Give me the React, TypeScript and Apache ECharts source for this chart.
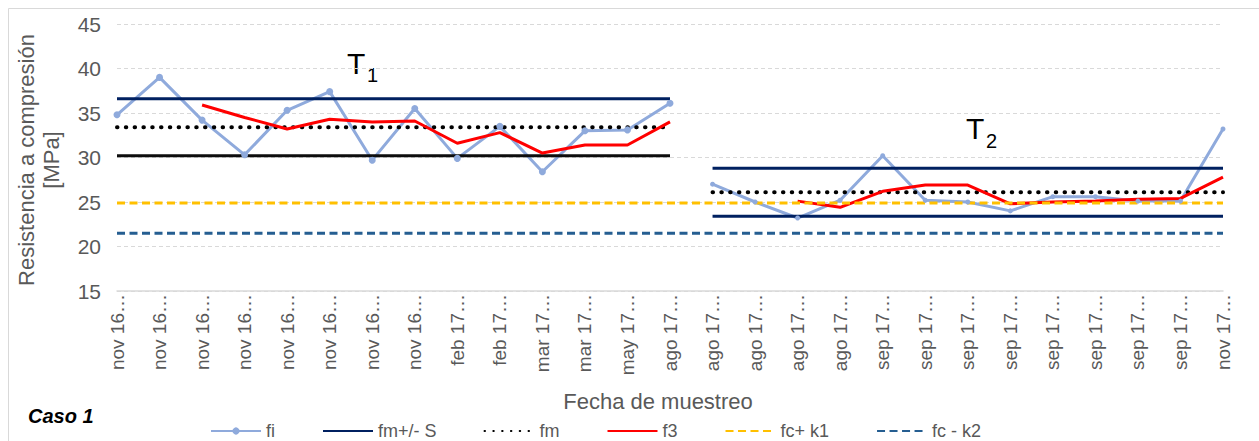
import { useEffect, useRef } from "react";
import * as echarts from "echarts";

const categories = [
  "nov 16…", "nov 16…", "nov 16…", "nov 16…", "nov 16…", "nov 16…", "nov 16…", "nov 16…",
  "feb 17…", "feb 17…", "mar 17…", "mar 17…", "may 17…",
  "ago 17…", "ago 17…", "ago 17…", "ago 17…", "ago 17…",
  "sep 17…", "sep 17…", "sep 17…", "sep 17…", "sep 17…", "sep 17…", "sep 17…", "sep 17…",
  "nov 17…",
];

const fi = [34.8, 39.0, 34.2, 30.3, 35.3, 37.4, 29.7, 35.5, 29.9, 33.5, 28.4, 33.0, 33.1, 36.1,
  27.0, 25.0, 23.2, 25.2, 30.2, 25.2, 25.0, 24.0, 25.6, 25.6, 25.1, 25.1, 33.2];

const f3 = [null, null, 35.9, 34.5, 33.2, 34.3, 34.0, 34.1, 31.6, 32.8, 30.5, 31.4, 31.4, 34.0,
  null, null, 25.1, 24.4, 26.2, 26.9, 26.9, 24.8, 25.0, 25.1, 25.3, 25.4, 27.8];

// Tramos (index ranges of categories)
const t1Range = [0, 13];
const t2Range = [14, 26];

// Horizontal reference levels
const fmT1 = 33.4;
const fmT2 = 26.1;
const upperT1 = 36.6;
const lowerT1 = 30.2;
const upperT2 = 28.8;
const lowerT2 = 23.4;
const fcK1 = 24.9;
const fcK2 = 21.5;

const yMin = 15;
const yMax = 45;
const yInterval = 5;

const legendNames = ["fi", "fm+/- S", "fm", "f3", "fc+ k1", "fc - k2"];

const FONT = "'Liberation Sans', Arial, sans-serif";
const GRAY = "#595959";
const CLEAR = "rgba(0,0,0,0)";

function seg(v: number, range: number[]) {
  return categories.map((_, i) => (i >= range[0] && i <= range[1] ? v : null));
}

function part(values: (number | null)[], range: number[], size: number) {
  return values.map((v, i) =>
    i >= range[0] && i <= range[1] ? { value: v, symbolSize: size } : null
  );
}

export default function App() {
  const ref = useRef<HTMLDivElement>(null);
  useEffect(() => {
    document.body.style.margin = "0";
    document.body.style.overflow = "hidden";
    const chart = echarts.init(ref.current!, null, { renderer: "svg" });
    const navy = "#002060";
    const flat = (name: string, data: any[], lineStyle: any) => ({
      name,
      type: "line",
      data,
      symbol: "none",
      lineStyle,
      itemStyle: { color: CLEAR },
    });
    const dotted = { color: "#000000", width: 4, type: [0.5, 8.3], cap: "round" };
    chart.setOption({
      animation: false,
      textStyle: { fontFamily: FONT },
      grid: { left: 117, right: 36, top: 24, bottom: 150, containLabel: false },
      xAxis: {
        type: "category",
        data: categories,
        boundaryGap: false,
        axisLine: { lineStyle: { color: "#d9d9d9", width: 1.5 } },
        axisTick: { show: false },
        axisLabel: { interval: 0, rotate: 90, fontSize: 19, color: GRAY, margin: 3, fontFamily: FONT },
        splitLine: { show: false },
      },
      yAxis: {
        type: "value",
        min: yMin,
        max: yMax,
        interval: yInterval,
        axisLine: { show: false },
        axisTick: { show: false },
        axisLabel: { fontSize: 21, color: GRAY, margin: 16, fontFamily: FONT },
        splitLine: { lineStyle: { color: "#d9d9d9", type: [4, 3], width: 1 } },
      },
      legend: {
        left: 205,
        top: 417,
        itemWidth: 50,
        itemHeight: 9,
        itemGap: 47,
        textStyle: { fontSize: 18, color: GRAY, fontFamily: FONT },
        data: legendNames,
      },
      series: [
        {
          name: "fi",
          type: "line",
          data: part(fi, t1Range, 7),
          symbol: "circle",
          symbolSize: 7,
          showSymbol: true,
          lineStyle: { color: "#8FAADC", width: 3 },
          itemStyle: { color: "#8FAADC" },
        },
        {
          name: "fi",
          type: "line",
          data: part(fi, t2Range, 5),
          symbol: "circle",
          symbolSize: 5,
          showSymbol: true,
          lineStyle: { color: "#8FAADC", width: 3 },
          itemStyle: { color: "#8FAADC" },
        },
        flat("fm+/- S", seg(upperT1, t1Range), { color: navy, width: 3 }),
        flat("fm+/- S", seg(upperT2, t2Range), { color: navy, width: 3 }),
        flat("fm+/- S", seg(lowerT2, t2Range), { color: navy, width: 3 }),
        flat("fm- S T1", seg(lowerT1, t1Range), { color: "#0d0d0d", width: 3 }),
        flat("fm", seg(fmT1, t1Range), dotted),
        flat("fm", seg(fmT2, t2Range), dotted),
        flat("f3", f3, { color: "#FF0000", width: 3 }),
        flat("fc+ k1", categories.map(() => fcK1), { color: "#FFC000", width: 3, type: [8, 4.5] }),
        flat("fc - k2", categories.map(() => fcK2), { color: "#255E91", width: 3, type: [8, 4.5] }),
      ],
      graphic: [
        {
          type: "rect",
          shape: { x: 8.5, y: 8.5, width: 1300, height: 500 },
          style: { fill: "none", stroke: "#d9d9d9", lineWidth: 1 },
          silent: true,
          z: -10,
        },
        {
          type: "text",
          x: 14,
          y: 160,
          rotation: Math.PI / 2,
          style: {
            text: "Resistencia a compresión\n[MPa]",
            fontSize: 22,
            lineHeight: 25,
            fill: GRAY,
            align: "center",
            verticalAlign: "top",
            fontFamily: FONT,
          },
        },
        {
          type: "text",
          x: 658,
          y: 401,
          style: {
            text: "Fecha de muestreo",
            fontSize: 22,
            fill: GRAY,
            align: "center",
            verticalAlign: "middle",
            fontFamily: FONT,
          },
        },
        {
          type: "text",
          x: 28,
          y: 416,
          style: {
            text: "Caso 1",
            fontSize: 20,
            fontWeight: "bold",
            fontStyle: "italic",
            fill: "#000000",
            align: "left",
            verticalAlign: "middle",
            fontFamily: FONT,
          },
        },
        {
          type: "text",
          x: 347,
          y: 63,
          style: { text: "T", fontSize: 30, fill: "#000", align: "left", verticalAlign: "middle", fontFamily: FONT },
        },
        {
          type: "text",
          x: 367,
          y: 75,
          style: { text: "1", fontSize: 20, fill: "#000", align: "left", verticalAlign: "middle", fontFamily: FONT },
        },
        {
          type: "text",
          x: 966,
          y: 128,
          style: { text: "T", fontSize: 30, fill: "#000", align: "left", verticalAlign: "middle", fontFamily: FONT },
        },
        {
          type: "text",
          x: 986,
          y: 141,
          style: { text: "2", fontSize: 20, fill: "#000", align: "left", verticalAlign: "middle", fontFamily: FONT },
        },
      ],
    });
    return () => chart.dispose();
  }, []);
  return <div ref={ref} style={{ width: 1259, height: 441 }} />;
}
